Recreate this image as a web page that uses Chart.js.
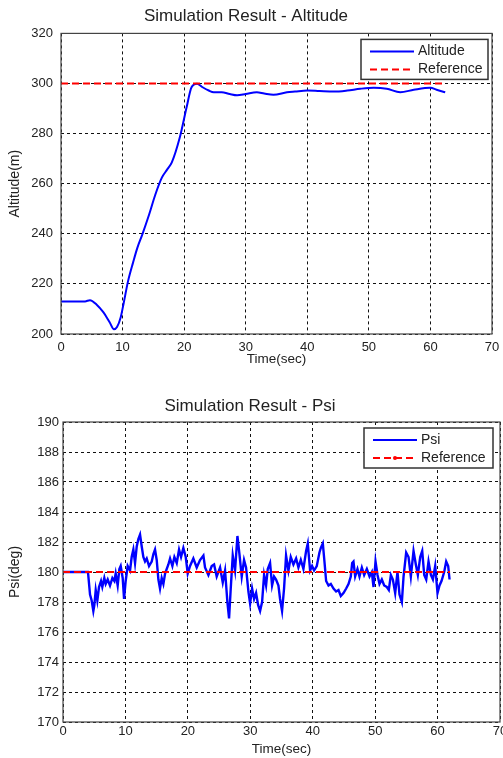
<!DOCTYPE html>
<html>
<head>
    <title>Simulation Result</title>
    <script src="https://cdn.jsdelivr.net/npm/chart.js@4.4.0/dist/chart.umd.min.js"></script>
    <style>
        body {
            margin: 0;
            background-color: #fff;
            overflow: hidden;
        }
        canvas {
            position: absolute;
            left: 0;
        }
        #altChart { top: 0; }
        #psiChart { top: 380px; }
    </style>
</head>
<body>
    <canvas id="altChart" width="503" height="380"></canvas>
    <canvas id="psiChart" width="503" height="378"></canvas>

    <script>
        // Altitude run (sec, m)
        const altTime = [0, 3.9, 4.7, 5.8, 6.9, 7.9, 8.6, 9.1, 9.7, 10.2, 10.9, 11.7, 12.4, 13.2, 14.3, 15.3,
            16.4, 17.2, 18.0, 19.3, 20.4, 21.2, 22.1, 23.0, 24.0, 24.8, 26.1, 27.4, 28.6, 30.0, 31.8, 33.0,
            34.5, 36.7, 38.0, 40.0, 42.0, 44.3, 46.5, 48.6, 50.8, 52.9, 55.1, 57.3, 60.0, 61.0, 62.4];
        const altValue = [213, 213, 213.5, 211.7, 208.6, 204.7, 201.9, 202.8, 206.7, 212.6, 221.2, 228.5, 234.4, 239.7, 247.6, 255.5,
            262.5, 265.5, 268.5, 278.5, 290.5, 298.5, 299.9, 298.5, 297.2, 296.5, 296.5, 295.8, 295.3, 295.8, 296.5, 296.0,
            295.5, 296.5, 296.8, 297.2, 297.0, 296.8, 297.2, 297.9, 298.3, 297.9, 296.5, 297.5, 298.3, 297.5, 296.5];
        const altRefTime = [0, 62];
        const altRefValue = [300, 300];

        // Psi run (sec, deg)
        const psiTime = [0, 4.0, 4.33, 4.59, 4.86, 5.02, 5.24, 5.5, 5.77, 6.09, 6.3, 6.62, 6.84, 7.16, 7.53, 7.91,
            8.23, 8.44, 8.76, 9.03, 9.24, 9.56, 9.78, 10.04, 10.36, 10.74, 11.0, 11.27, 11.54, 11.81, 12.07, 12.34,
            12.61, 12.87, 13.14, 13.41, 13.78, 14.21, 14.48, 14.74, 15.01, 15.28, 15.54, 15.81, 16.08, 16.35, 16.88,
            17.15, 17.52, 17.84, 18.22, 18.59, 18.91, 19.28, 19.66, 19.98,
            20.35, 20.88, 21.42, 21.95, 22.49, 22.75, 23.29, 23.82, 24.2, 24.62, 25.16, 25.59, 25.96, 26.33, 26.6,
            26.87, 27.19, 27.56, 27.94, 28.26, 28.63, 29.0, 29.32, 29.7, 29.97, 30.29, 30.61, 30.93, 31.25, 31.57,
            31.89, 32.21, 32.53, 32.8, 33.17, 33.49, 33.81, 34.13, 34.51, 34.77, 35.09, 35.41, 35.73, 36.11, 36.48,
            36.91, 37.34, 37.71, 38.09, 38.51, 38.94, 39.21, 39.58, 39.9, 40.22, 40.65, 41.08,
            41.3, 41.62, 41.88, 42.15, 42.53, 42.9, 43.33, 43.75, 44.13, 44.5, 44.93, 45.36, 45.73, 46.1, 46.32,
            46.53, 46.8, 47.17, 47.49, 47.87, 48.24, 48.67, 49.1, 49.47, 49.74, 50.06, 50.38, 50.7, 51.07, 51.45,
            51.87, 52.19, 52.52, 52.84, 53.21, 53.58, 53.9, 54.28, 54.55, 54.97, 55.35, 55.72, 56.15, 56.52, 56.84,
            57.22, 57.54, 57.86, 58.18, 58.55, 58.93, 59.25, 59.62, 59.99, 60.31, 60.63, 61.06, 61.38, 61.7, 61.92];
        const psiValue = [180, 180, 178.5, 178.1, 177.4, 177.8, 178.8, 178.1, 179.0, 179.4, 179.0, 179.6, 179.2, 179.5, 179.1, 179.6,
            179.4, 179.9, 179.1, 180.2, 180.4, 179.6, 178.2, 179.4, 180.4, 180.1, 181.0, 181.5, 180.6, 181.7, 182.2, 182.5,
            181.7, 181.0, 180.7, 180.9, 180.4, 180.7, 181.2, 181.5, 180.8, 179.5, 178.9, 179.6, 179.2, 179.9, 180.5,
            180.9, 180.4, 181.0, 180.6, 181.5, 181.0, 181.6, 181.0, 179.9,
            180.4, 180.9, 180.3, 180.8, 181.1, 180.3, 179.8, 180.4, 180.5, 179.7, 180.3, 179.3, 180.1, 178.0, 176.9,
            178.9, 181.1, 180.1, 182.4, 181.2, 179.7, 180.8, 180.3, 178.7, 177.9, 178.9, 178.2, 178.6, 177.8, 177.4,
            178.0, 179.8, 179.1, 180.2, 180.6, 179.1, 179.7, 179.5, 179.1, 178.2, 177.4, 178.9, 181.1, 180.1, 181.0,
            180.5, 180.9, 180.3, 180.8, 180.2, 181.4, 181.9, 180.1, 180.4, 180.1, 180.4, 181.3,
            181.6, 181.9, 180.7, 179.4, 179.1, 179.2, 178.9, 178.7, 178.8, 178.4, 178.6, 178.9, 179.2, 179.7, 180.6,
            180.7, 179.7, 180.2, 179.7, 180.3, 179.8, 180.2, 179.7, 180.0, 179.0, 180.7, 179.8, 179.2, 179.5, 179.1,
            179.0, 178.8, 179.8, 179.5, 178.6, 180.0, 178.5, 178.0, 179.7, 181.3, 181.0, 179.7, 181.4, 180.5, 179.8,
            181.0, 181.4, 179.8, 179.5, 180.7, 179.8, 179.5, 180.4, 178.6, 179.1, 179.4, 180.0, 180.7, 180.4, 179.5];
        const psiRefTime = [0, 62];
        const psiRefValue = [180, 180];

        const timeTicks = [0, 10, 20, 30, 40, 50, 60, 70];

        Chart.defaults.font.family = "'Liberation Sans', Arial, sans-serif";
        Chart.defaults.color = '#222';

        function points(xs, ys) {
            return xs.map((x, i) => ({x: x, y: ys[i]}));
        }

        // draws the matlab style box round the plot and the legend inside it
        const boxLegend = {
            id: 'boxLegend',
            afterDraw(chart, args, opts) {
                const {ctx, chartArea: a} = chart;
                ctx.save();
                ctx.setLineDash([]);
                ctx.strokeStyle = '#444';
                ctx.lineWidth = 1.2;
                ctx.strokeRect(a.left, a.top, a.right - a.left, a.bottom - a.top);

                const x = a.right - opts.right - opts.width;
                const y = a.top + opts.top;
                ctx.fillStyle = '#fff';
                ctx.fillRect(x, y, opts.width, opts.height);
                ctx.strokeStyle = '#333';
                ctx.lineWidth = 1.5;
                ctx.strokeRect(x, y, opts.width, opts.height);

                ctx.font = '14px "Liberation Sans", Arial, sans-serif';
                ctx.textBaseline = 'middle';
                chart.data.datasets.forEach((ds, i) => {
                    const ly = y + 12 + i * 18;
                    ctx.strokeStyle = ds.borderColor;
                    ctx.lineWidth = 2;
                    ctx.setLineDash(ds.borderDash || []);
                    ctx.beginPath();
                    ctx.moveTo(x + 9, ly);
                    ctx.lineTo(x + 53, ly);
                    ctx.stroke();
                    if (ds.legendDot) {
                        ctx.fillStyle = ds.borderColor;
                        ctx.beginPath();
                        ctx.arc(x + 31, ly, 2, 0, Math.PI * 2);
                        ctx.fill();
                    }
                    ctx.setLineDash([]);
                    ctx.fillStyle = '#222';
                    ctx.fillText(ds.label, x + 57, ly);
                });
                ctx.restore();
            }
        };

        function makeChart(id, cfg) {
            const ctx = document.getElementById(id).getContext('2d');
            return new Chart(ctx, {
                type: 'line',
                data: {
                    datasets: [{
                        label: cfg.label,
                        data: points(cfg.time, cfg.value),
                        borderColor: '#0000ff',
                        borderWidth: cfg.lineWidth,
                        pointRadius: 0,
                        cubicInterpolationMode: cfg.smooth ? 'monotone' : 'default',
                        tension: cfg.smooth ? 0.4 : 0,
                        order: 1
                    }, {
                        label: 'Reference',
                        data: points(cfg.refTime, cfg.refValue),
                        borderColor: '#ff0000',
                        borderWidth: 2,
                        borderDash: [7, 4],
                        pointRadius: 0,
                        legendDot: cfg.legendDot,
                        order: 0
                    }]
                },
                options: {
                    responsive: false,
                    animation: false,
                    layout: { padding: { left: 0, right: cfg.padRight, top: 0, bottom: 0 } },
                    plugins: {
                        legend: { display: false },
                        tooltip: { enabled: false },
                        title: {
                            display: true,
                            text: cfg.title,
                            font: { size: 17, weight: 'normal' },
                            color: '#222',
                            padding: cfg.titlePad
                        },
                        boxLegend: cfg.legend
                    },
                    scales: {
                        x: {
                            type: 'linear',
                            min: 0,
                            max: 70,
                            afterBuildTicks: s => { s.ticks = timeTicks.map(v => ({value: v})); },
                            ticks: { font: { size: 13 }, padding: cfg.xTickPad, maxRotation: 0, color: '#222' },
                            grid: { color: '#111', lineWidth: 1, drawTicks: false },
                            border: { display: false, dash: [3, 3] },
                            title: {
                                display: true,
                                text: 'Time(sec)',
                                font: { size: 13.5 },
                                color: '#222',
                                padding: { top: 0, bottom: cfg.xTitlePad }
                            },
                            afterFit: s => {
                                s.height = cfg.xHeight;
                                s.paddingLeft = 0;
                                s.paddingRight = 0;
                            }
                        },
                        y: {
                            min: cfg.yMin,
                            max: cfg.yMax,
                            ticks: { stepSize: cfg.yStep, font: { size: 13 }, padding: cfg.yTickPad, color: '#222' },
                            grid: { color: '#111', lineWidth: 1, drawTicks: false },
                            border: { display: false, dash: [3, 3] },
                            title: {
                                display: true,
                                text: cfg.yTitle,
                                font: { size: 14 },
                                color: '#222',
                                padding: { top: 7, bottom: 0 }
                            },
                            afterFit: s => { s.width = cfg.yWidth; }
                        }
                    }
                },
                plugins: [boxLegend]
            });
        }

        makeChart('altChart', {
            label: 'Altitude',
            title: 'Simulation Result - Altitude',
            time: altTime, value: altValue,
            refTime: altRefTime, refValue: altRefValue,
            smooth: true, lineWidth: 2,
            legendDot: false,
            yMin: 200, yMax: 320, yStep: 20, yTitle: 'Altitude(m)',
            yWidth: 61, padRight: 11,
            titlePad: { top: 6, bottom: 7 },
            xHeight: 46, xTickPad: 6, xTitlePad: 13,
            yTickPad: 8,
            legend: { right: 4, top: 6, width: 127, height: 40 }
        });

        makeChart('psiChart', {
            label: 'Psi',
            title: 'Simulation Result - Psi',
            time: psiTime, value: psiValue,
            refTime: psiRefTime, refValue: psiRefValue,
            smooth: false, lineWidth: 2.4,
            legendDot: true,
            yMin: 170, yMax: 190, yStep: 2, yTitle: 'Psi(deg)',
            yWidth: 63, padRight: 3,
            titlePad: { top: 16, bottom: 5.6 },
            xHeight: 36, xTickPad: 2, xTitlePad: 1,
            yTickPad: 4,
            legend: { right: 7, top: 6, width: 129, height: 40 }
        });
    </script>
</body>
</html>
